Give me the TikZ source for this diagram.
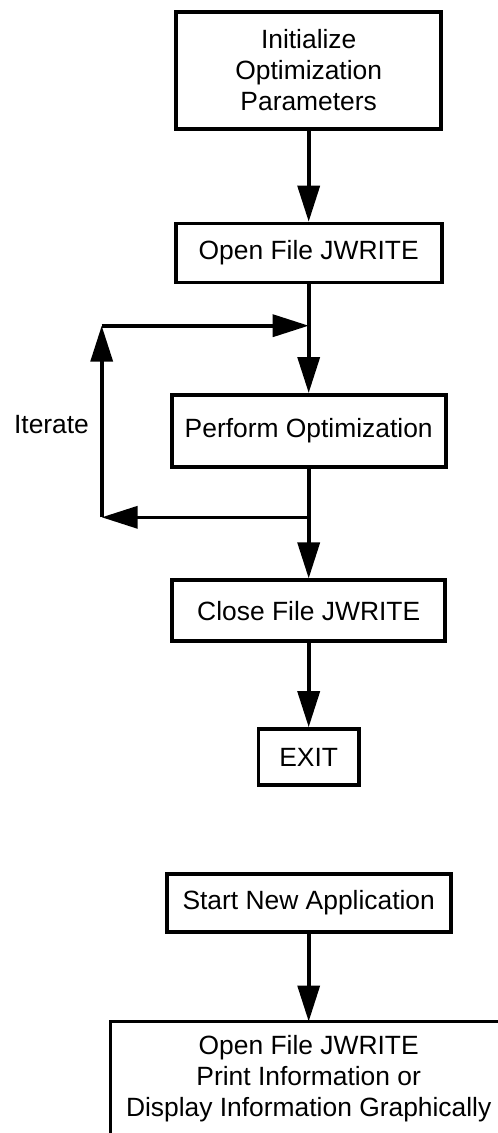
\documentclass[tikz,border=0pt]{standalone}
\usepackage{fontspec}
\setmainfont{Liberation Sans}
\usetikzlibrary{arrows.meta}
\tikzset{
  box/.style={draw, line width=3.6pt, inner sep=0pt, align=center,
    font=\fontsize{26.4}{31}\selectfont},
  label text/.style={inner sep=0pt, align=center,
    font=\fontsize{26.4}{31}\selectfont},
  arr/.style={line width=3.6pt, -{Triangle[length=36pt,width=22pt]}},
  wire/.style={line width=3.6pt}
}
\begin{document}
\begin{tikzpicture}[x=1pt, y=-1pt]
\useasboundingbox (0,0) rectangle (498,1133);
\clip (0,0) rectangle (498,1133);

% main optimization loop
\node[box, minimum width=265pt, minimum height=117pt] (init) at (308.7,70.3)
  {Initialize\\Optimization\\Parameters};
\node[box, minimum width=266pt, minimum height=59pt] (open) at (308.7,253)
  {Open File JWRITE};
\node[box, minimum width=274pt, minimum height=72pt] (perf) at (308.7,430.8)
  {Perform Optimization};
\node[box, minimum width=273pt, minimum height=61pt] (close) at (308.7,610.7)
  {Close File JWRITE};
\node[box, minimum width=100.5pt, minimum height=56pt] (exit) at (308.7,757)
  {EXIT};

% second application
\node[box, minimum width=284pt, minimum height=58pt] (start) at (308.7,902.8)
  {Start New Application};
% output box runs past the right and bottom edges of the page
\coordinate (dispnw) at (110.5,1021.5);
\coordinate (dispse) at (540,1180);
\coordinate (dispn) at (308.7,1021.5);
\draw[wire] (dispnw) rectangle (dispse);
\node[label text] (disp) at (308.7,1078.5)
  {Open File JWRITE\\Print Information or\\Display Information Graphically};

% loop junctions
\coordinate (jtop) at (308.7,325.7);
\coordinate (jbot) at (308.7,517.3);
\coordinate (ltop) at (101.7,325.7);
\coordinate (lbot) at (101.7,517.3);

\node[label text, anchor=base] (iter) at (51.5,433) {Iterate};

\draw[arr] (init.south) -- (open.north);
\draw[wire] (open.south) -- (jtop);
\draw[arr] (jtop) -- (perf.north);
\draw[wire] (perf.south) -- (jbot);
\draw[arr] (jbot) -- (close.north);
\draw[arr] (jbot) -- (lbot);
\draw[arr] (lbot) -- (ltop);
\draw[arr] (ltop) -- (jtop);
\draw[arr] (close.south) -- (exit.north);

\draw[arr] (start.south) -- (dispn);
\end{tikzpicture}
\end{document}
